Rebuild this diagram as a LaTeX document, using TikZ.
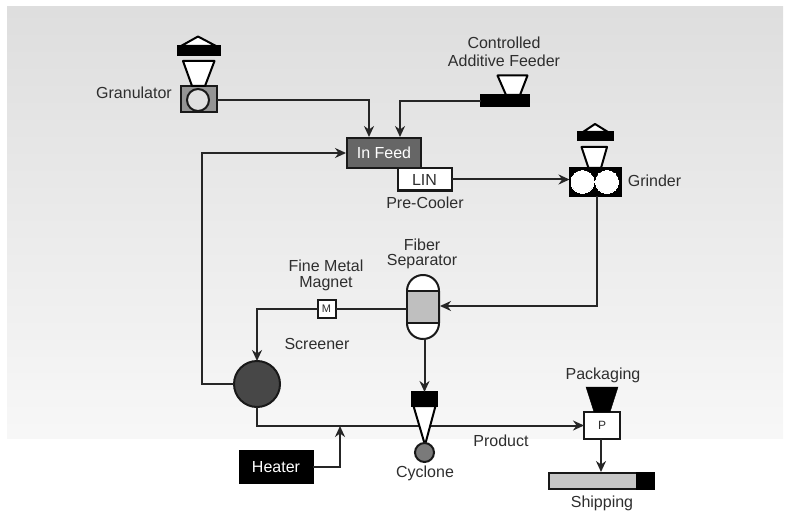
\documentclass[tikz,border=0pt]{standalone}
\usepackage{fontspec}
\setmainfont{Liberation Sans}
\usetikzlibrary{arrows.meta}
\tikzset{
    unit/.style={draw=black!90,line width=2pt,rectangle,inner sep=0pt,outer sep=0pt},
    disc/.style={draw=black!90,line width=2pt,circle,inner sep=0pt,outer sep=0pt},
    blockbar/.style={unit,draw=black,fill=black},
    hopper/.style={draw=black,line width=2pt,fill=white,line join=round},
    flow/.style={draw=black!85,line width=2pt,-{Stealth[length=11pt,width=10pt]}},
    plain/.style={draw=black!85,line width=2pt},
    tag/.style={text=black!82,font=\fontsize{16}{18}\selectfont,align=center,inner sep=0pt},
}
\begin{document}
\begin{tikzpicture}[x=1pt,y=-1pt]
            \useasboundingbox (0,0) rectangle (789,513);
            \shade[top color=black!13,bottom color=black!3] (7,7) rectangle (783,438);
            \node[unit,fill=black!42,minimum width=36pt,minimum height=26pt] (granulator) at (199,99.5) {};
            \node[disc,fill=black!12,minimum size=22pt] (granulatordisc) at (198,100) {};
            \draw[hopper] (183,61) -- (214.5,61) -- (205,86) -- (192,86) -- cycle;
            \draw[hopper] (181,46) -- (198,36.5) -- (216,46) -- cycle;
            \node[blockbar,minimum width=42pt,minimum height=9pt] (granulatorbar) at (198.5,51) {};
            \node[tag] (granulatorlabel) at (134,93) {Granulator};
            \node[blockbar,minimum width=48pt,minimum height=11pt] (feeder) at (504.5,101) {};
            \draw[hopper] (497.5,75.5) -- (527.5,75.5) -- (520,95) -- (506,95) -- cycle;
            \node[tag] (feederlabel) at (504,52) {Controlled\\[0pt]Additive Feeder};
            \node[unit,fill=black!60,text=white,font=\fontsize{16}{18}\selectfont,minimum width=74pt,minimum height=30pt] (infeed) at (384,153) {In Feed};
            \node[unit,fill=white,text=black!82,font=\fontsize{16}{18}\selectfont,minimum width=54pt,minimum height=22pt] (lin) at (424.5,179.5) {LIN};
            \node[tag] (coolerlabel) at (425,203) {Pre-Cooler};
            \node[blockbar,minimum width=51pt,minimum height=27pt] (grinder) at (595,182) {};
            \node[disc,draw=white,fill=white,line width=0pt,minimum size=23pt] (grinderleft) at (582.5,182) {};
            \node[disc,draw=white,fill=white,line width=0pt,minimum size=23pt] (grinderright) at (607,182) {};
            \draw[hopper] (581.5,147) -- (607,147) -- (601,168) -- (588.5,168) -- cycle;
            \draw[hopper] (583,132) -- (595,124) -- (608,132) -- cycle;
            \node[blockbar,minimum width=35pt,minimum height=8pt] (grinderbar) at (595,136.5) {};
            \node[tag] (grinderlabel) at (654.5,181) {Grinder};
            \node[unit,fill=white,rounded corners=15.9pt,minimum width=32pt,minimum height=64pt] (separator) at (423,307) {};
            \node[unit,fill=black!25,minimum width=32pt,minimum height=32pt] (separatorband) at (423,307) {};
            \node[tag] (separatorlabel) at (422,253.5) {Fiber\\[-3pt]Separator};
            \node[unit,fill=white,text=black!82,font=\fontsize{11}{12}\selectfont,minimum width=18pt,minimum height=18pt] (magnet) at (326.5,309) {M};
            \node[tag] (magnetlabel) at (326,275) {Fine Metal\\[-2pt]Magnet};
            \node[disc,fill=black!72,minimum size=46pt] (screener) at (257,384) {};
            \node[tag] (screenerlabel) at (317,344) {Screener};
            \node[blockbar,text=white,font=\fontsize{16}{18}\selectfont,minimum width=73pt,minimum height=32pt] (heater) at (276,467) {Heater};
            \node[unit,fill=white,text=black!82,font=\fontsize{12}{14}\selectfont,minimum width=36pt,minimum height=27pt] (packing) at (602,425.5) {P};
            \draw[fill=black] (586,387) -- (618,387) -- (610,412) -- (594,412) -- cycle;
            \node[tag] (packinglabel) at (603,375) {Packaging};
            \node[unit,fill=black!22,minimum width=105pt,minimum height=16pt] (shipping) at (601.5,481) {};
            \node[blockbar,minimum width=17pt,minimum height=16pt] (shippingend) at (645.5,481) {};
            \node[tag] (shippinglabel) at (602,503) {Shipping};
            \node[tag] (productlabel) at (501,441) {Product};
            \coordinate (infeedtopa) at (369,137);
            \coordinate (infeedtopb) at (400,137);
            \coordinate (infeedside) at (346,153);
            \coordinate (grinderout) at (597,195.5);
            \coordinate (separatorin) at (440,306);
            \coordinate (heaterjoin) at (340,426);
            \coordinate (shippingtop) at (601,472);
            \draw[flow] (granulator.east |- granulatordisc) -| (infeedtopa);
            \draw[flow] (feeder.west) -| (infeedtopb);
            \draw[flow] (screener.west) -| (201.5,300) |- (infeedside);
            \draw[flow] (lin.east) -- (grinder.west |- lin.east);
            \draw[flow] (grinderout) |- (separatorin);
            \draw[plain] (separatorband.west |- magnet.east) -- (magnet.east);
            \draw[flow] (magnet.west) -| (screener.north);
            \draw[flow] (screener.south) |- (packing.west);
            \draw[flow] (heater.east) -| (heaterjoin);
            \draw[flow] (packing.south -| shippingtop) -- (shippingtop);
            \node[blockbar,minimum width=25pt,minimum height=14pt] (cyclone) at (424.5,399) {};
            \draw[hopper] (413.5,406) -- (435.5,406) -- (425,445) -- cycle;
            \node[disc,fill=black!52,minimum size=19pt] (cyclonedisc) at (424.5,452.5) {};
            \node[tag] (cyclonelabel) at (425,473) {Cyclone};
            \draw[flow] (separator.south) -- (separator.south -| cyclone.north) -- (cyclone.north);
        \end{tikzpicture}
\end{document}
